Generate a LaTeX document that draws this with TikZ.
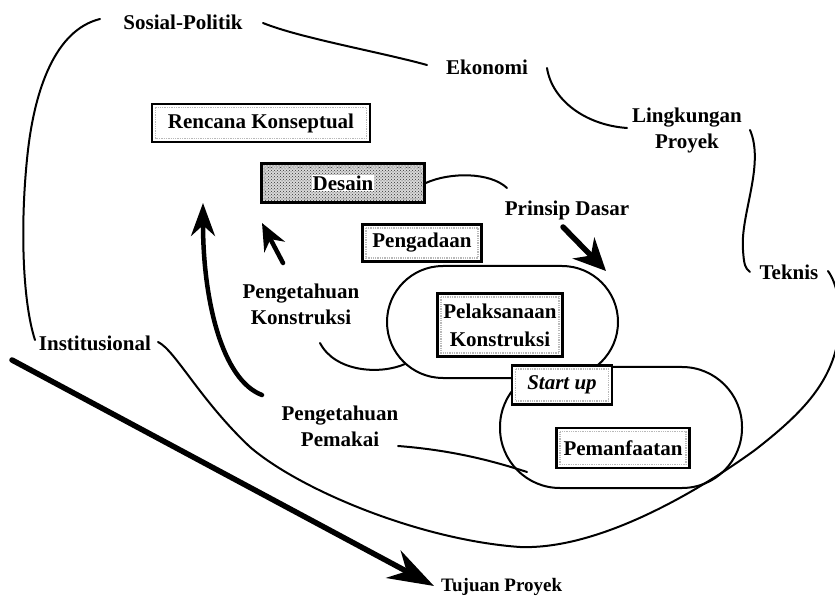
\documentclass[tikz,border=0pt]{standalone}
\usepackage{fontspec}
\setmainfont{Liberation Serif}
\usetikzlibrary{arrows.meta,patterns}
\begin{document}
\begin{tikzpicture}[x=1pt,y=-1pt,
  lbl/.style={font=\fontsize{21}{26}\selectfont\bfseries, align=center, inner sep=1pt},
  stagebox/.style={draw, line width=2.5pt, fill=white,
    font=\fontsize{21}{28}\selectfont\bfseries, align=center, inner sep=2pt,
    path picture={\draw[gray!55, densely dotted, line width=1.3pt]
      ([shift={(3.5pt,-3.5pt)}]path picture bounding box.north west) rectangle
      ([shift={(-3.5pt,3.5pt)}]path picture bounding box.south east);}},
  edgeline/.style={line width=2pt, line cap=round},
  ovalline/.style={line width=2pt},
  thickarrow/.style={line width=#1, line cap=round}]

% canvas
\useasboundingbox (0,0) rectangle (835,601);
\clip (0,0) rectangle (835,601);
\fill[white] (0,0) rectangle (835,601);

% environment labels
\node[lbl] (sp)   at (183,22)  {Sosial-Politik};
\node[lbl] (ek)   at (487,67)  {Ekonomi};
\node[lbl] (lp)   at (687,130) {Lingkungan\\Proyek};
\node[lbl] (tk)   at (789,272) {Teknis};
\node[lbl] (inst) at (95,343)  {Institusional};
\node[lbl, anchor=west, font=\fontsize{19}{24}\selectfont\bfseries] (tp) at (440,587) {Tujuan Proyek};

% knowledge labels
\node[lbl] (pd) at (567,210) {Prinsip Dasar};
\node[lbl] (pk) at (301,304) {Pengetahuan\\Konstruksi};
\node[lbl] (pp) at (340,426) {Pengetahuan\\Pemakai};

% end points of the boundary curves
\coordinate (spL)   at (100,19);
\coordinate (spR)   at (263,23);
\coordinate (ekL)   at (427,65);
\coordinate (ekR)   at (547,68);
\coordinate (lpL)   at (627,128);
\coordinate (lpR)   at (750,130);
\coordinate (tkL)   at (750,272);
\coordinate (tkR)   at (828,271);
\coordinate (instL) at (35,340);
\coordinate (instR) at (158,342);

% environment boundary
\draw[edgeline] (spL) .. controls (55,30) and (35,90) .. (28,150)
                      .. controls (20,220) and (22,300) .. (instL);
\draw[edgeline] (spR) .. controls (300,38) and (380,52) .. (ekL);
\draw[edgeline] (ekR) .. controls (552,100) and (585,125) .. (lpL);
\draw[edgeline] (lpR) .. controls (765,165) and (740,215) .. (743,250)
                      .. controls (744,265) and (745,268) .. (tkL);
\draw[edgeline] (instR) .. controls (175,350) and (200,400) .. (250,447)
                        .. controls (300,490) and (420,540) .. (520,547)
                        .. controls (600,550) and (700,490) .. (755,450)
                        .. controls (800,415) and (830,385) .. (838,340)
                        .. controls (842,310) and (838,285) .. (tkR);

% project goal arrow
\coordinate (goalTail) at (12,360);
\draw[thickarrow=5.5pt, -{Stealth[length=46pt,width=31pt]}] (goalTail) -- (434,586);

% phase groupings
\draw[ovalline, rounded corners=56pt] (387,266) rectangle (618,378);
\draw[ovalline, rounded corners=60pt] (500,367) rectangle (742,488);

% project phases
\node[stagebox, minimum width=218pt, minimum height=38pt] (rk) at (261,123) {Rencana Konseptual};
\node[stagebox, minimum width=163pt, minimum height=39pt,
      preaction={fill=gray!30}, pattern=crosshatch dots, pattern color=black!80] (ds) at (343,183)
      {\fboxsep=1pt\colorbox{white}{Desain}};
\node[stagebox, minimum width=119pt, minimum height=37pt] (pg) at (422,243) {Pengadaan};
\node[stagebox, minimum width=125pt, minimum height=63pt] (pl) at (500,325) {Pelaksanaan\\Konstruksi};
\node[stagebox, minimum width=100pt, minimum height=39pt, font=\fontsize{21}{28}\selectfont\bfseries\itshape] (su) at (562,385) {Start up};
\node[stagebox, minimum width=133pt, minimum height=40pt] (pm) at (623,448) {Pemanfaatan};

% knowledge flows
\coordinate (pdTail) at (563,227);
\coordinate (pkTail) at (283,263);
\coordinate (ppTail) at (262,395);
\coordinate (pkLine) at (320,343);
\coordinate (ppLine) at (398,446);

\draw[edgeline] (ds.east) .. controls (450,172) and (490,172) .. (507,188);
\draw[thickarrow=5.5pt, -{Stealth[length=32pt,width=30pt]}] (pdTail) -- (606,271);
\draw[thickarrow=4.5pt, -{Stealth[length=27pt,width=23pt]}] (pkTail) -- (262,223);
\draw[thickarrow=4.5pt, -{Stealth[length=33pt,width=24pt]}]
  (ppTail) .. controls (222,380) and (203,300) .. (203,203);
\draw[edgeline] (pkLine) .. controls (335,372) and (380,375) .. (405,364);
\draw[edgeline] (ppLine) .. controls (450,450) and (490,460) .. (527,472);

\end{tikzpicture}
\end{document}
